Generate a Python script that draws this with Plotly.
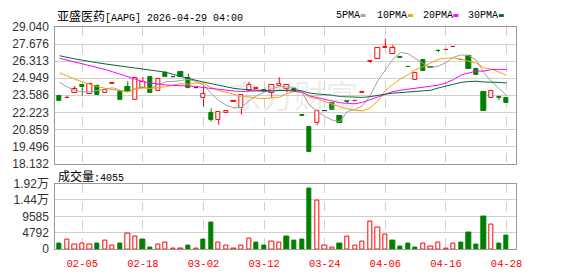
import plotly.graph_objects as go

# ---------------- data ----------------
dates = ["02-02", "02-03", "02-04", "02-05", "02-06", "02-09", "02-10", "02-11", "02-12", "02-13",
         "02-17", "02-18", "02-19", "02-20", "02-23", "02-24", "02-25", "02-26", "02-27",
         "03-02", "03-03", "03-04", "03-05", "03-06", "03-09", "03-10", "03-11", "03-12", "03-13",
         "03-16", "03-17", "03-18", "03-19", "03-20", "03-23", "03-24", "03-25", "03-26", "03-27",
         "03-30", "03-31", "04-01", "04-02", "04-06", "04-07", "04-08", "04-09", "04-10",
         "04-13", "04-14", "04-15", "04-16", "04-17", "04-20", "04-21", "04-22", "04-23", "04-24",
         "04-27", "04-28"]

opens = [23.51, 23.34, 23.76, 24.42, 23.71, 24.32, 23.81, 24.53, 23.85, 24.27,
         23.18, 24.17, 25.03, 23.91, 25.38, 25.04, 25.45, 25.00, 24.15, 23.34,
         22.17, 21.64, 22.15, 23.09, 22.55, 23.94, 24.11, 24.00, 23.80, 24.34,
         24.12, 24.10, 21.99, 21.03, 21.36, 22.31, 22.98, 21.97, 23.10, 23.10,
         23.75, 26.27, 26.52, 27.36, 26.92, 26.61, 25.85, 24.82, 26.39, 25.83,
         27.16, 27.20, 27.43, 26.41, 26.71, 25.71, 23.83, 23.34, 23.49, 23.36]
highs = [23.52, 23.56, 24.32, 24.42, 24.58, 24.44, 24.02, 24.56, 23.85, 24.70,
         25.00, 25.03, 25.03, 24.93, 25.50, 25.04, 25.45, 25.33, 24.15, 24.32,
         22.55, 22.22, 22.38, 23.13, 23.65, 24.67, 24.24, 24.00, 24.41, 25.03,
         24.46, 24.15, 21.99, 21.03, 22.31, 22.31, 22.98, 21.97, 23.10, 23.13,
         23.87, 26.40, 27.35, 28.11, 27.60, 26.61, 25.85, 25.33, 26.39, 25.83,
         27.25, 27.24, 27.47, 26.41, 26.79, 25.71, 23.83, 23.94, 23.49, 23.36]
lows = [23.14, 23.34, 23.76, 23.56, 23.71, 23.61, 23.81, 24.53, 23.24, 23.83,
        23.18, 24.17, 23.76, 23.91, 25.04, 25.04, 25.08, 24.12, 24.15, 22.68,
        21.49, 21.22, 22.15, 23.09, 22.05, 23.94, 24.08, 23.90, 23.37, 24.34,
        23.81, 23.90, 21.95, 19.06, 21.20, 22.31, 22.39, 21.36, 22.98, 23.10,
        23.75, 26.18, 26.52, 27.36, 26.92, 26.57, 25.81, 24.82, 25.50, 25.79,
        27.02, 27.20, 27.43, 26.37, 25.65, 25.20, 22.30, 23.34, 23.19, 23.00]
closes = [23.15, 23.37, 24.06, 24.22, 24.52, 23.61, 24.02, 24.56, 23.24, 23.83,
          25.00, 24.65, 23.76, 24.93, 25.04, 25.04, 25.08, 24.15, 24.15, 23.68,
          21.62, 22.22, 22.32, 23.13, 23.65, 24.44, 24.15, 23.90, 24.41, 24.49,
          24.44, 23.90, 21.95, 19.06, 22.31, 22.31, 22.39, 21.36, 23.07, 23.13,
          23.87, 26.31, 27.35, 27.45, 27.35, 26.57, 25.81, 25.33, 25.50, 25.79,
          27.13, 27.24, 27.47, 26.37, 25.65, 25.20, 22.30, 23.94, 23.38, 23.00]
volumes = [1660, 2670, 1380, 1570, 1380, 1660, 2400, 1100, 1660, 4610,
           3780, 2770, 550, 1380, 1840, 180, 180, 1100, 180, 2770,
           7740, 1840, 1100, 180, 1100, 2950, 1940, 920, 2120, 1940,
           3690, 2490, 2770, 17700, 14100, 1100, 550, 1660, 3600, 1100,
           2210, 8020, 6360, 4150, 2490, 830, 1660, 550, 1570, 830,
           1840, 280, 1570, 1940, 4700, 1380, 9400, 7100, 1660, 4055]

# moving-average values at the start of the window (earlier closes are not shown)
ma5_head = [24.62, 24.25, 23.98, 23.85]
ma10_head = [25.38, 25.10, 24.88, 24.65, 24.44, 24.28, 24.14, 24.04, 23.93]
ma20_head = [26.54, 26.39, 26.26, 26.14, 25.99, 25.81, 25.65, 25.46, 25.25, 25.05,
             24.84, 24.68, 24.57, 24.46, 24.41, 24.38, 24.37, 24.36, 24.30]
ma30_head = [26.74, 26.59, 26.49, 26.39, 26.31, 26.18, 26.09, 25.99, 25.91, 25.84,
             25.76, 25.68, 25.61, 25.53, 25.43, 25.25, 25.08, 24.92, 24.78, 24.64,
             24.50, 24.36, 24.23, 24.14, 24.07, 24.02, 23.99, 23.96, 23.94]

price_ticks = [18.132, 19.496, 20.859, 22.223, 23.586, 24.949, 26.313, 27.676, 29.040]
vol_tickvals = [0, 4792.5, 9585, 14377.5, 19170]
vol_ticktext = ["0", "4792", "9585", "1.44万", "1.92万"]
x_labels = ["02-05", "02-18", "03-02", "03-12", "03-24", "04-06", "04-16", "04-28"]

title_name = "亚盛医药"
title_rest = "[AAPG] 2026-04-29 04:00"
vol_title = "成交量"
legend_names = ["5PMA", "10PMA", "20PMA", "30PMA"]

# ---------------- styles ----------------
W, H = 578, 276
RED = "#ff0000"
GREEN = "#008000"
BLACK = "#000000"
MA_COLORS = ["#a0a0a0", "#f5a300", "#ff00ff", "#006b2e"]
GRID = "#d0d0d0"
BORDER = "#999999"
LATIN = "Liberation Sans, Arial, Noto Sans CJK SC"
MONO = "Liberation Mono, DejaVu Sans Mono, monospace"


def px(x):
    return x / W


def py(y):
    return 1 - y / H


n = len(closes)
xs = list(range(n))


def moving(head, k):
    out = list(head)
    for i in range(len(head), n):
        out.append(round(sum(closes[i - k + 1:i + 1]) / k, 4))
    return out


mas = [moving(ma5_head, 5), moving(ma10_head, 10), moving(ma20_head, 20), moving(ma30_head, 30)]

fig = go.Figure()

# wicks
wick = {RED: ([], []), GREEN: ([], []), BLACK: ([], [])}
for i in xs:
    o, h, l, c = opens[i], highs[i], lows[i], closes[i]
    col = RED if c > o else (GREEN if c < o else BLACK)
    top, bot = max(o, c), min(o, c)
    wx, wy = wick[col]
    if h > top:
        wx += [i, i, None]
        wy += [top, h, None]
    if l < bot:
        wx += [i, i, None]
        wy += [l, bot, None]
for col, (wx, wy) in wick.items():
    fig.add_trace(go.Scatter(x=wx, y=wy, mode="lines", line=dict(color=col, width=1),
                             xaxis="x", yaxis="y", hoverinfo="skip", showlegend=False))

# bodies
MINB = 0.025
groups = {"up": ([], [], []), "down": ([], [], []), "flat": ([], [], [])}
for i in xs:
    o, c = opens[i], closes[i]
    key = "up" if c > o else ("down" if c < o else "flat")
    gx, gb, gh = groups[key]
    gx.append(i)
    if key == "flat":
        gb.append(o - MINB / 2)
        gh.append(MINB)
    else:
        gb.append(min(o, c))
        gh.append(max(abs(c - o), MINB))
BW = 0.56
styles = {"up": dict(color="white", line=dict(color=RED, width=1)),
          "down": dict(color=GREEN, line=dict(color=GREEN, width=1)),
          "flat": dict(color=BLACK, line=dict(color=BLACK, width=0.6))}
for key, (gx, gb, gh) in groups.items():
    fig.add_trace(go.Bar(x=gx, y=gh, base=gb, width=BW, marker=styles[key],
                         xaxis="x", yaxis="y", hoverinfo="skip", showlegend=False))

# moving averages
for ma, col in zip(mas, MA_COLORS):
    fig.add_trace(go.Scatter(x=xs, y=ma, mode="lines", line=dict(color=col, width=1),
                             xaxis="x", yaxis="y", hoverinfo="skip", showlegend=False))

# volume
vup_x, vup_y, vdn_x, vdn_y = [], [], [], []
for i in xs:
    prev = closes[i - 1] if i > 0 else opens[0]
    if closes[i] >= prev:
        vup_x.append(i); vup_y.append(volumes[i])
    else:
        vdn_x.append(i); vdn_y.append(volumes[i])
fig.add_trace(go.Bar(x=vup_x, y=vup_y, width=BW,
                     marker=dict(color="white", line=dict(color=RED, width=1)),
                     xaxis="x2", yaxis="y2", hoverinfo="skip", showlegend=False))
fig.add_trace(go.Bar(x=vdn_x, y=vdn_y, width=BW,
                     marker=dict(color=GREEN, line=dict(color=GREEN, width=1)),
                     xaxis="x2", yaxis="y2", hoverinfo="skip", showlegend=False))

tickpos = [dates.index(d) for d in x_labels]
xr = [-0.56, 60.2]
xdom = [px(56), px(522)]

common_x = dict(domain=xdom, range=xr, tickvals=tickpos, ticktext=x_labels,
                showgrid=True, gridcolor=GRID, griddash="dash", gridwidth=1,
                showline=True, mirror=True, linecolor=BORDER, linewidth=1,
                zeroline=False, ticks="", fixedrange=True)
common_y = dict(showgrid=True, gridcolor=GRID, gridwidth=1, showline=True, mirror=True,
                linecolor=BORDER, linewidth=1, zeroline=False, ticks="",
                tickfont=dict(family=LATIN, size=12, color="#333333"), fixedrange=True,
                ticklabelstandoff=3)

fig.update_layout(
    width=W, height=H, margin=dict(l=0, r=0, t=0, b=0),
    paper_bgcolor="white", plot_bgcolor="white", barmode="overlay", bargap=0,
    showlegend=False,
    xaxis=dict(anchor="y", showticklabels=False, **common_x),
    yaxis=dict(domain=[py(165), py(21)], range=[18.1319, 29.0401], tickvals=price_ticks,
               ticktext=["%.3f" % v for v in price_ticks], anchor="x", **common_y),
    xaxis2=dict(anchor="y2", showticklabels=True, matches="x",
                tickfont=dict(family=MONO, size=10.5, color=RED), ticklabelstandoff=4,
                **common_x),
    yaxis2=dict(domain=[py(255), py(186)], range=[0, 19170.5], tickvals=vol_tickvals,
                ticktext=vol_ticktext, anchor="x2", **common_y),
)

annotations = []
annotations.append(dict(
    x=px(56), y=py(9), xref="paper", yref="paper", xanchor="left", yanchor="middle",
    showarrow=False,
    text=("<span style='font-family:Noto Sans CJK SC;font-size:12px'>%s</span>%s"
          % (title_name, title_rest)),
    font=dict(family=MONO, size=10, color="#000000")))
annotations.append(dict(
    x=px(57), y=py(178), xref="paper", yref="paper", xanchor="left", yanchor="middle",
    showarrow=False,
    text=("<span style='font-family:Noto Sans CJK SC;font-size:12px'>%s</span>:%d"
          % (vol_title, volumes[-1])),
    font=dict(family=MONO, size=10, color="#000000")))
# watermark
annotations.append(dict(
    x=px(298), y=py(92), xref="paper", yref="paper", xanchor="center", yanchor="middle",
    showarrow=False, text="东方财富",
    font=dict(family="Noto Sans CJK SC", size=32, color="rgba(190,190,190,0.28)")))

legend_text_x = [338, 380, 426, 472]
legend_sq_x = [365, 413, 459, 505]
shapes = []
for name, tx, sx, col in zip(legend_names, legend_text_x, legend_sq_x, MA_COLORS):
    annotations.append(dict(x=px(tx), y=py(9), xref="paper", yref="paper",
                            xanchor="left", yanchor="middle", showarrow=False, text=name,
                            font=dict(family=MONO, size=10, color="#000000")))
    shapes.append(dict(type="rect", xref="paper", yref="paper",
                       x0=px(sx), x1=px(sx + 5), y0=py(10.5), y1=py(7.5),
                       fillcolor=col, line=dict(width=0)))

fig.update_layout(annotations=annotations, shapes=shapes)
fig.write_html("out.html", config={"displayModeBar": False})
